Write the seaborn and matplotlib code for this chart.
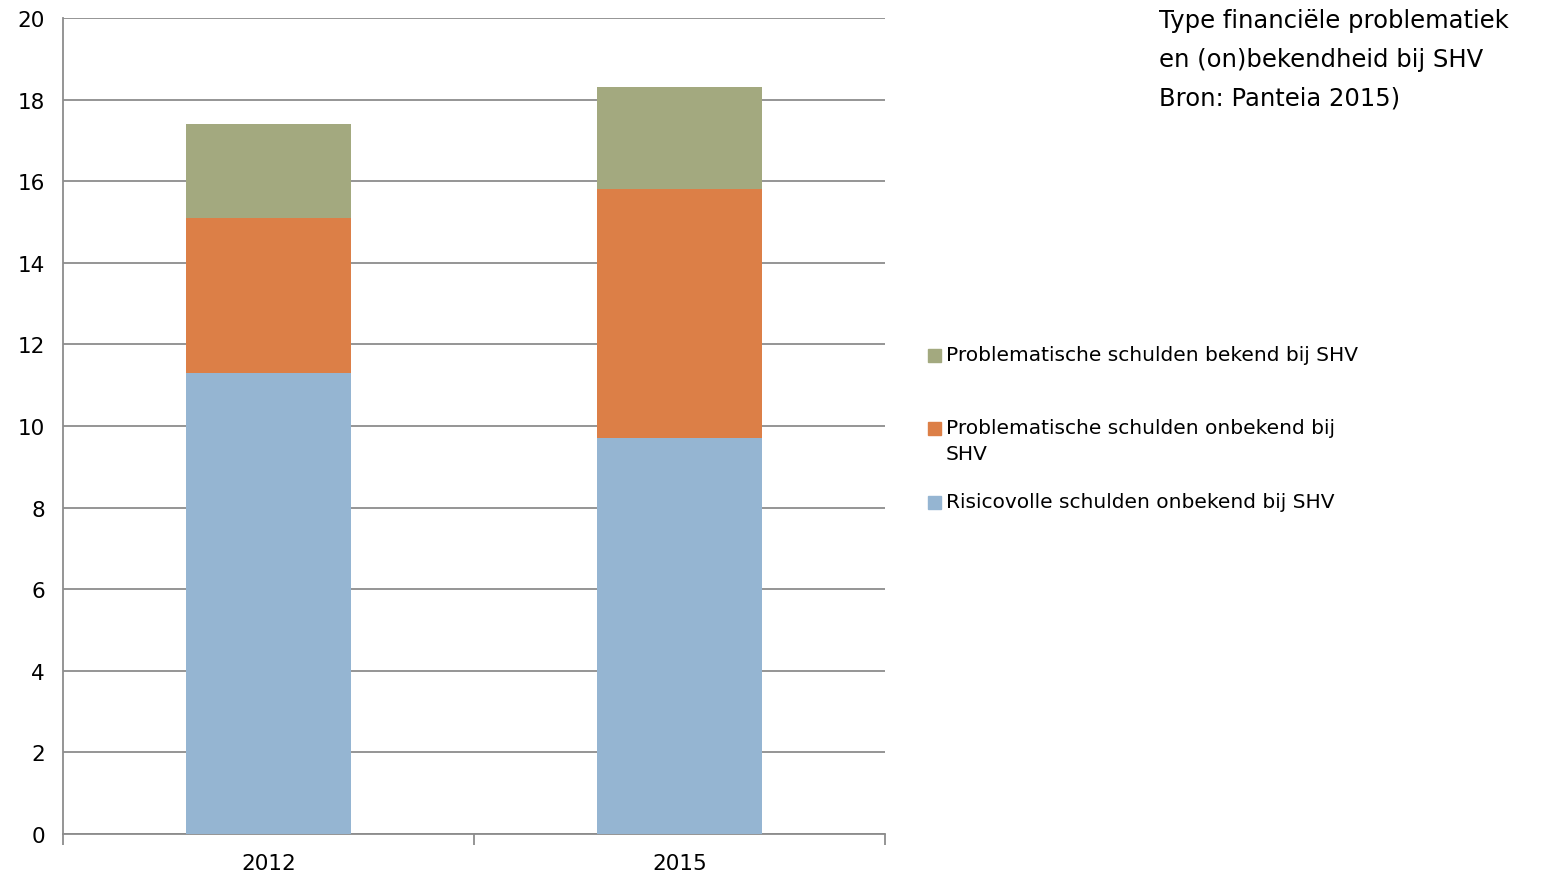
import numpy as np
import pandas as pd
import matplotlib
matplotlib.use("Agg")
import matplotlib.pyplot as plt
from matplotlib.patches import Rectangle
import seaborn as sns

# data
years = ["2012", "2015"]
risicovol_onbekend = [11.3, 9.7]
problematisch_onbekend = [3.8, 6.1]
problematisch_bekend = [2.3, 2.5]

series = ["Risicovolle schulden onbekend bij SHV",
          "Problematische schulden onbekend bij\nSHV",
          "Problematische schulden bekend bij SHV"]
colors = ["#95b5d2", "#dc7f47", "#a3a97f"]

sns.set_style("white")
plt.rcParams['font.family'] = ['DejaVu Sans']
plt.rcParams['text.color'] = 'black'
plt.rcParams['xtick.labelcolor'] = 'black'
plt.rcParams['ytick.labelcolor'] = 'black'

fig = plt.figure(figsize=(15.42, 8.78), dpi=100)
ax = fig.add_axes([63/1542, 43/878, 822/1542, 816/878])

df = pd.DataFrame({"jaar": years,
                   "s0": risicovol_onbekend,
                   "s1": problematisch_onbekend,
                   "s2": problematisch_bekend})
cum = df[["s0", "s1", "s2"]].cumsum(axis=1)

# draw totals first, then the lower segments on top (stacked look)
for col, c in zip(["s2", "s1", "s0"], colors[::-1]):
    sns.barplot(x=df["jaar"], y=cum[col], color=c, width=0.4,
                saturation=1, linewidth=0, ax=ax, zorder=3)

ax.set_ylim(0, 20)
ax.set_xlim(-0.5, 1.5)
ax.set_yticks(np.arange(0, 21, 2))
ax.yaxis.grid(True, color="#8c8c8c", lw=1.3, zorder=0)
ax.set_axisbelow(True)
ax.set_xlabel("")
ax.set_ylabel("")
for s in ["top", "right"]:
    ax.spines[s].set_visible(False)
for s in ["left", "bottom"]:
    ax.spines[s].set_color("#8c8c8c")
    ax.spines[s].set_linewidth(1.3)
ax.tick_params(axis="y", length=8, color="#8c8c8c", width=1.3, labelsize=15.5,
               pad=5, labelcolor="black")
ax.tick_params(axis="x", which="major", length=0, labelsize=15.5, pad=14,
               labelcolor="black")
ax.set_xticks([-0.5, 0.5, 1.5], minor=True)
ax.tick_params(axis="x", which="minor", length=8, color="#8c8c8c", width=1.3, direction="out")
ax.tick_params(axis="x", which="minor", bottom=True)

# legend, top entry first
leg_y = [356, 429, 503]
for lab, c, yy in zip(series[::-1], colors[::-1], leg_y):
    fig.patches.append(Rectangle((928/1542, 1 - (yy + 7)/878), 13/1542, 13/878,
                                 transform=fig.transFigure, color=c, figure=fig))
    fig.text(946/1542, 1 - (yy - 10)/878, lab, fontsize=14.5, va="top",
             ha="left", linespacing=1.45, color="black")

fig.text(1159/1542, 1 - 9/878,
         "Type financiële problematiek\nen (on)bekendheid bij SHV\nBron: Panteia 2015)",
         fontsize=17.5, va="top", ha="left", linespacing=1.78, color="black")

fig.savefig("out.png", dpi=100)
